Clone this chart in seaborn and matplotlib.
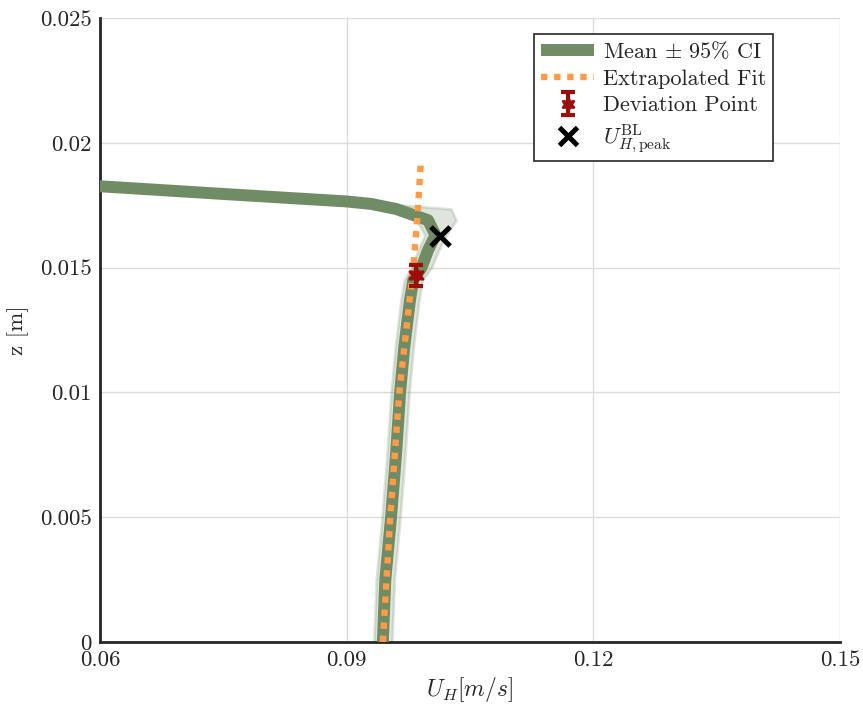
import numpy as np
import pandas as pd
import matplotlib
matplotlib.use("Agg")
import matplotlib.pyplot as plt
import seaborn as sns
from matplotlib.ticker import FixedLocator, FuncFormatter
from matplotlib.lines import Line2D

# ---- data ----
z_prof = [0.0000, 0.0025, 0.0050, 0.0075, 0.0100, 0.0118, 0.0137, 0.0145, 0.0150,
          0.0157, 0.0163, 0.0169, 0.01735, 0.01755, 0.01765, 0.01795, 0.01830]
u_mean = [0.0944, 0.0947, 0.0954, 0.0960, 0.0965, 0.0970, 0.0977, 0.0981, 0.0991,
          0.0999, 0.1008, 0.0999, 0.0960, 0.0930, 0.0900, 0.0750, 0.0580]
u_lo = [0.0933, 0.0936, 0.0943, 0.0949, 0.0954, 0.0959, 0.0966, 0.0970, 0.0979,
        0.0987, 0.0995, 0.0985, 0.0950, 0.0920, 0.0890, 0.0740, 0.0570]
u_hi = [0.0955, 0.0958, 0.0965, 0.0971, 0.0976, 0.0981, 0.0988, 0.0992, 0.1003,
        0.1012, 0.1021, 0.1033, 0.1027, 0.0950, 0.0915, 0.0765, 0.0595]

z_fit = [0.0000, 0.0050, 0.0100, 0.0150, 0.0170, 0.0191]
u_fit = [0.0944, 0.0953, 0.0964, 0.0981, 0.0986, 0.0990]

dev_u = [0.0984]
dev_z = [0.0147]
dev_err = [0.00042]

peak_u = [0.10135]
peak_z = [0.01627]

x_ticks = [0.06, 0.09, 0.12, 0.15]
y_ticks = [0.0, 0.005, 0.01, 0.015, 0.02, 0.025]

GREEN = "#708c64"
ORANGE = "#ff9a45"
RED = "#9a0f0a"

sns.set_style("white")
plt.rcParams["font.family"] = ["cmr10", "DejaVu Serif"]
plt.rcParams["mathtext.fontset"] = "cm"
plt.rcParams["axes.formatter.use_mathtext"] = True
plt.rcParams["axes.unicode_minus"] = False

fig = plt.figure(figsize=(8.63, 7.07), dpi=100)
ax = fig.add_axes([100 / 863, 1 - 642 / 707, 740 / 863, 624 / 707])

prof = pd.DataFrame({"u": u_mean, "z": z_prof})
fit = pd.DataFrame({"u": u_fit, "z": z_fit})

ax.fill_betweenx(z_prof, u_lo, u_hi, color=GREEN, alpha=0.22, lw=2.0,
                 edgecolor=(0.44, 0.55, 0.39, 0.30), zorder=2)
sns.lineplot(data=prof, x="u", y="z", sort=False, estimator=None, color=GREEN,
             lw=8.6, ax=ax, zorder=3, label=r"Mean $\pm$ 95% CI")
ax.lines[-1].set_solid_capstyle("butt")
ax.lines[-1].set_solid_joinstyle("round")
sns.lineplot(data=fit, x="u", y="z", sort=False, estimator=None, color=ORANGE,
             lw=4.6, ax=ax, zorder=4, label="Extrapolated Fit")
ax.lines[-1].set_dashes((1.0, 1.05))
ax.lines[-1].set_dash_capstyle("butt")
ax.errorbar(dev_u, dev_z, yerr=dev_err, fmt="none", ecolor=RED,
            elinewidth=3.0, capsize=5, capthick=3.0, zorder=5)
ax.plot(dev_u, dev_z, marker=(6, 1, 0), ms=12, color=RED, mec=RED, mew=1.5,
        ls="none", zorder=5)
sns.scatterplot(x=peak_u, y=peak_z, marker="x", s=190, color="black", linewidth=3.6,
                ax=ax, zorder=6, legend=False)

ax.set_xlim(0.06, 0.15)
ax.set_ylim(0, 0.025)
ax.xaxis.set_major_locator(FixedLocator(x_ticks))
ax.yaxis.set_major_locator(FixedLocator(y_ticks))
ax.xaxis.set_major_formatter(FuncFormatter(lambda v, p: f"{v:g}"))
ax.yaxis.set_major_formatter(FuncFormatter(lambda v, p: f"{v:g}"))
ax.tick_params(axis="both", direction="in", length=5, width=0.8, labelsize=16.5,
               colors="#262626", pad=6)
ax.grid(True, color="#dcdcdc", lw=1.0)
for s in ["top", "right"]:
    ax.spines[s].set_visible(False)
for s in ["left", "bottom"]:
    ax.spines[s].set_color("#262626")
    ax.spines[s].set_linewidth(2.0)

ax.set_xlabel(r"$U_H[m/s]$", fontsize=17, color="#262626", labelpad=4)
ax.set_ylabel("z [m]", fontsize=16.5, color="#262626", labelpad=8)

# legend handles built in the reference's order
h_mean, h_fit = ax.get_legend_handles_labels()[0][:2]
dev_handle = ax.errorbar([np.nan], [np.nan], yerr=[1], fmt="none", ecolor=RED,
                         elinewidth=3.0, capsize=5, capthick=3.0)
dev_marker = Line2D([], [], marker=(6, 1, 0), ms=10, color=RED, mew=1.5, ls="none")
peak_handle = Line2D([], [], marker="x", ms=13, mew=3.6, color="black", ls="none")
leg = ax.legend([h_mean, h_fit, (dev_handle, dev_marker), peak_handle],
                [r"Mean $\pm$ 95% CI", "Extrapolated Fit", "Deviation Point",
                 r"$U_{H,\mathrm{peak}}^{\mathrm{BL}}$"],
                loc="upper right", bbox_to_anchor=(0.91, 0.975), fontsize=16,
                frameon=True, fancybox=False, edgecolor="#262626", framealpha=1,
                handlelength=2.4, labelspacing=0.32, borderpad=0.3, handletextpad=0.4,
                borderaxespad=0)
leg.get_frame().set_linewidth(1.2)

fig.savefig("out.png", dpi=100)
